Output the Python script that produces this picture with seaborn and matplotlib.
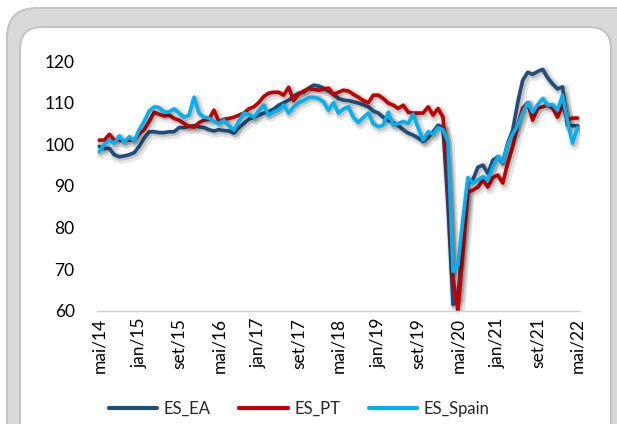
import numpy as np
import pandas as pd
import matplotlib
matplotlib.use("Agg")
import matplotlib.pyplot as plt
import matplotlib.patheffects as pe
from matplotlib.patches import FancyBboxPatch
from matplotlib.lines import Line2D
import seaborn as sns

# monthly index, mai/14 .. mai/22
months = pd.date_range("2014-05-01", periods=97, freq="MS")

es_ea = [99.5, 99, 99, 97.5, 97, 97.2, 97.5, 98, 99.5, 101.5,
         103, 103, 102.8, 102.8, 103, 103, 104, 104, 104.3, 104.5,
         104.2, 104, 103.5, 103.2, 103.5, 103.3, 103.2, 102.7, 104, 105,
         106, 106.5, 107, 107.5, 107.8, 108.5, 109.4, 110, 110.6, 111.5,
         112.3, 112.5, 113.5, 114.2, 114, 113.5, 112.8, 112, 111, 110.6,
         110.5, 110.2, 109.9, 109.5, 109, 108, 107.5, 106.5, 105.8, 105.2,
         104.5, 103.5, 102.7, 102.2, 101.5, 100.7, 101.5, 103, 104.6, 104,
         85, 61.5, 63, 78, 90.5, 91.5, 94.5, 95, 93, 96.2,
         97, 95.5, 100.3, 103.4, 110, 115.4, 117.3, 116.8, 117.5, 118,
         116, 114.5, 113.3, 113.8, 104.6, 104.5, 104.4]

es_pt = [101, 101, 102.4, 101, 101, 100.8, 101, 101, 102.5, 103.5,
         105.5, 107.7, 107.2, 106.8, 107, 106.2, 105.8, 105, 104.3, 104.1,
         105.2, 105.8, 106, 108.2, 105.5, 106, 106.2, 106.5, 107, 107.5,
         108.5, 109, 110, 111.5, 112.3, 112.5, 112.5, 111.8, 113.7, 110.5,
         112, 112.8, 113.3, 113.2, 113, 113.2, 113.5, 112, 112.5, 113,
         112.8, 112, 111.3, 110.5, 110, 111.8, 111.8, 111, 109.9, 109.4,
         108.6, 109.4, 107.7, 107.5, 107.5, 107.5, 109, 107, 108.6, 106.5,
         92, 68, 60, 74, 88.5, 89, 89.7, 91.4, 89.7, 92,
         92.6, 90.7, 95.5, 99.5, 104.5, 108.7, 110, 105.8, 108.7, 109,
         109.4, 108.7, 106.5, 109.4, 105.8, 106.3, 106.3]

es_spain = [98.2, 100, 101, 100.2, 102, 100.5, 101.8, 100.8, 103.5, 105.5,
            108, 109, 108.8, 107.7, 107.8, 108.5, 107.5, 106.5, 107, 111.3,
            107.5, 106.5, 106.3, 105.5, 105, 105.8, 104.5, 103.4, 105.5, 107.5,
            107.2, 106.5, 108, 109.4, 107, 107.8, 108.2, 109.4, 107.5, 109,
            110, 110.5, 111.2, 111.3, 111, 110.2, 108.2, 110, 107.5, 108.5,
            109, 106.5, 105.2, 106.5, 107.5, 105, 104.2, 104.6, 107.7, 104.6,
            105, 105.5, 105, 107.2, 104, 101, 103, 102.5, 104, 103.5,
            100.5, 69.4, 71, 82, 92, 90.7, 91.4, 92.2, 91.4, 94.5,
            97, 95.7, 100, 102.5, 104.5, 107.5, 110, 107.7, 109.5, 111,
            109.4, 109.5, 108.2, 111.8, 105.5, 100.3, 104]

series_names = ["ES_EA", "ES_PT", "ES_Spain"]
colors = ["#1F4E79", "#C00000", "#00B0F0"]

tick_pos = list(range(0, 97, 8))
tick_labels = ["mai/14", "jan/15", "set/15", "mai/16", "jan/17", "set/17", "mai/18",
               "jan/19", "set/19", "mai/20", "jan/21", "set/21", "mai/22"]

df = pd.DataFrame({"t": np.arange(len(months)), "ES_EA": es_ea,
                   "ES_PT": es_pt, "ES_Spain": es_spain})
long = df.melt(id_vars="t", var_name="serie", value_name="valor")

sns.set_theme(style="white")
plt.rcParams["font.family"] = ["Lato", "DejaVu Sans"]

fig = plt.figure(figsize=(6.17, 4.24), dpi=100)

# rounded frames (in inches so the corners stay round)
outer = FancyBboxPatch((0.07, -1.0), 6.5, 5.16, boxstyle="round,pad=0,rounding_size=0.3",
                       transform=fig.dpi_scale_trans, facecolor="#d9d9d9",
                       edgecolor="#c4c4c4", linewidth=1.5, zorder=-3)
inner = FancyBboxPatch((0.20, -1.0), 5.91, 4.97, boxstyle="round,pad=0,rounding_size=0.22",
                       transform=fig.dpi_scale_trans, facecolor="white",
                       edgecolor="#c4c4c4", linewidth=1.5, zorder=-2)
fig.add_artist(outer)
fig.add_artist(inner)

ax = fig.add_axes([0.157, 0.267, 0.783, 0.589])
ax.patch.set_alpha(0)

sns.lineplot(data=long, x="t", y="valor", hue="serie", hue_order=series_names,
             palette=colors, linewidth=2.6, ax=ax, legend=False)

for line in ax.lines:
    line.set_solid_joinstyle("round")
    line.set_path_effects([
        pe.SimpleLineShadow(offset=(1.5, -1.5), shadow_color="black", alpha=0.10, linewidth=7),
        pe.SimpleLineShadow(offset=(1.0, -1.0), shadow_color="black", alpha=0.14, linewidth=4),
        pe.Normal()])

ax.set_xlim(-0.5, 96.5)
ax.set_ylim(60, 120)
ax.set_yticks(range(60, 121, 10))
ax.set_xticks(tick_pos)
ax.set_xticklabels(tick_labels, rotation=90)
ax.tick_params(axis="y", length=0, pad=16, labelsize=12.5, labelcolor="black")
ax.tick_params(axis="x", length=0, pad=5, labelsize=12.5, labelcolor="black")
ax.set_xlabel("")
ax.set_ylabel("")
for s in ["top", "right", "left"]:
    ax.spines[s].set_visible(False)
ax.spines["bottom"].set_color("#d0d0d0")
ax.spines["bottom"].set_linewidth(1)

handles = [Line2D([0], [0], color=c, lw=3) for c in colors]
fig.legend(handles, series_names, loc="center", bbox_to_anchor=(0.485, 0.035), ncol=3,
           frameon=False, fontsize=12, handlelength=2.9, handletextpad=0.4,
           columnspacing=1.7)

fig.savefig("out.png", dpi=100)
